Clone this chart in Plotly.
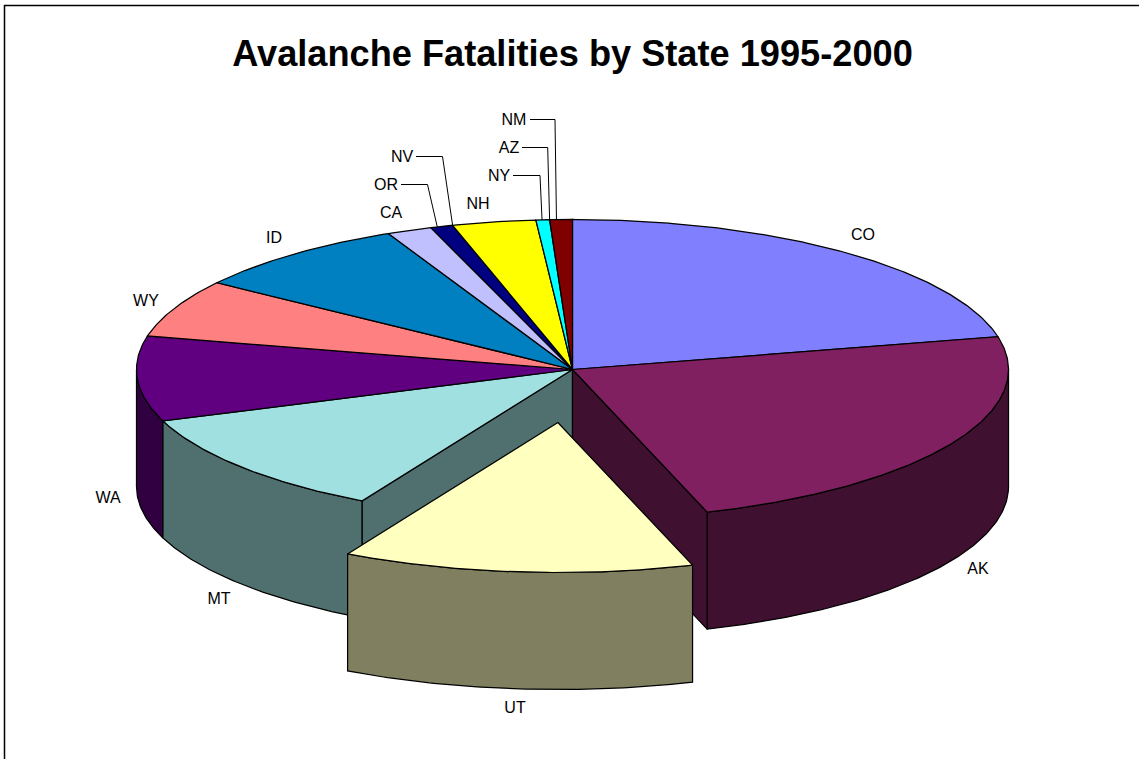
import numpy as np
import plotly.graph_objects as go

# Data
states = ["CO", "AK", "UT", "MT", "WA", "WY", "ID", "CA", "OR", "NV", "NH", "NY", "AZ", "NM"]
fatalities = [51.4, 56.2, 31.1, 27.3, 21.9, 14.9, 19.7, 4.0, 2.0, 0, 7.4, 1.2, 0, 2.0]
top_colors = ["#8080FF", "#802060", "#FFFFC0", "#A0E0E0", "#600080", "#FF8080", "#0080C0",
              "#C0C0FF", "#000080", "#FF00FF", "#FFFF00", "#00FFFF", "#800080", "#800000"]
side_colors = ["#404080", "#401030", "#808060", "#507070", "#300040", "#804040", "#004060",
               "#606080", "#000040", "#800080", "#808000", "#008080", "#400040", "#400000"]
exploded = "UT"
title = "Avalanche Fatalities by State 1995-2000"

# Layout of the drawing (pixel-aligned axes)
W, H = 1139, 759
CX, CY, RX, RY, DEPTH = 572.5, 369.5, 436.0, 150.0, 117.0
EXPLODE = 0.355
LINE_W = 1.25
label_x = [863, 978, 515, 219, 108, 146, 274, 391, 386, 402, 478, 499, 509, 514]
label_y = [236, 570, 709, 600, 499, 302, 239, 214, 186, 158, 205, 177, 149, 121]
# leader lines: state -> (start x, elbow x, fraction of slice where the line lands)
leaders = {"OR": (401, 427.5, 0.3), "NV": (416, 442.5, 0.5), "NY": (513, 540, 0.45),
           "AZ": (522, 547.7, 0.5), "NM": (530, 555, 0.3)}

total = sum(fatalities)
edges = np.concatenate([[0], np.cumsum(fatalities)]) / total * 2 * np.pi


def rim(a0, a1, ox=0.0, oy=0.0, dz=0.0):
    n = max(2, int(abs(a1 - a0) / 0.01))
    t = np.linspace(a0, a1, n)
    return CX + ox + RX * np.sin(t), CY + oy + dz - RY * np.cos(t)


def poly(fig, x, y, color):
    fig.add_trace(go.Scatter(x=np.append(x, x[0]), y=np.append(y, y[0]), mode="lines",
                             fill="toself", fillcolor=color, line=dict(color="black", width=LINE_W),
                             hoverinfo="skip", showlegend=False))


def outer_wall(fig, a0, a1, color, ox=0.0, oy=0.0):
    lo, hi = max(a0, np.pi / 2), min(a1, 3 * np.pi / 2)
    if hi <= lo:
        return
    x1, y1 = rim(lo, hi, ox, oy)
    x2, y2 = rim(hi, lo, ox, oy, DEPTH)
    poly(fig, np.concatenate([x1, x2]), np.concatenate([y1, y2]), color)


def cut_wall(fig, a, color):
    x, y = rim(a, a)
    x, y = x[0], y[0]
    poly(fig, np.array([CX, x, x, CX]), np.array([CY, y, y + DEPTH, CY + DEPTH]), color)


fig = go.Figure()
ex = states.index(exploded)

# side walls, back to front
for i in [4, 3, 1]:
    outer_wall(fig, edges[i], edges[i + 1], side_colors[i])
cut_wall(fig, edges[ex + 1], side_colors[ex + 1])
cut_wall(fig, edges[ex], side_colors[ex - 1])

# top faces
for i, s in enumerate(states):
    if fatalities[i] == 0 or i == ex:
        continue
    x, y = rim(edges[i], edges[i + 1])
    poly(fig, np.concatenate([[CX], x]), np.concatenate([[CY], y]), top_colors[i])

# exploded slice
mid = (edges[ex] + edges[ex + 1]) / 2
ox, oy = EXPLODE * RX * np.sin(mid), -EXPLODE * RY * np.cos(mid)
outer_wall(fig, edges[ex], edges[ex + 1], side_colors[ex], ox, oy)
x, y = rim(edges[ex], edges[ex + 1], ox, oy)
poly(fig, np.concatenate([[CX + ox], x]), np.concatenate([[CY + oy], y]), top_colors[ex])

# leader lines
for s, (x0, xe, frac) in leaders.items():
    i = states.index(s)
    a = edges[i] + frac * (edges[i + 1] - edges[i])
    ly = label_y[i] - 1.5
    fig.add_trace(go.Scatter(x=[x0, xe, CX + RX * np.sin(a)], y=[ly, ly, CY - RY * np.cos(a)],
                             mode="lines", line=dict(color="black", width=1),
                             hoverinfo="skip", showlegend=False))

# labels
fig.add_trace(go.Scatter(x=label_x, y=label_y, mode="text", text=states, textposition="middle center",
                         textfont=dict(family="Liberation Sans", size=16, color="black"),
                         hoverinfo="skip", showlegend=False))

fig.update_layout(
    width=W, height=H, margin=dict(l=0, r=0, t=0, b=0),
    paper_bgcolor="white", plot_bgcolor="white", showlegend=False,
    title=dict(text="<b>%s</b>" % title, x=572.5 / W, y=1 - 53 / H, xanchor="center", yanchor="middle",
               xref="paper", yref="paper",
               font=dict(family="Liberation Sans", size=36.2, color="black")),
    xaxis=dict(range=[0, W], visible=False, fixedrange=True),
    yaxis=dict(range=[H, 0], visible=False, fixedrange=True),
    shapes=[dict(type="rect", xref="x", yref="y", x0=4.5, y0=5.5, x1=W + 20, y1=H + 20,
                 line=dict(color="black", width=1.5), layer="below")],
)

fig.write_html("out.html", config=dict(displayModeBar=False),
               post_script="document.body.style.margin='0';document.body.style.overflow='hidden';")
